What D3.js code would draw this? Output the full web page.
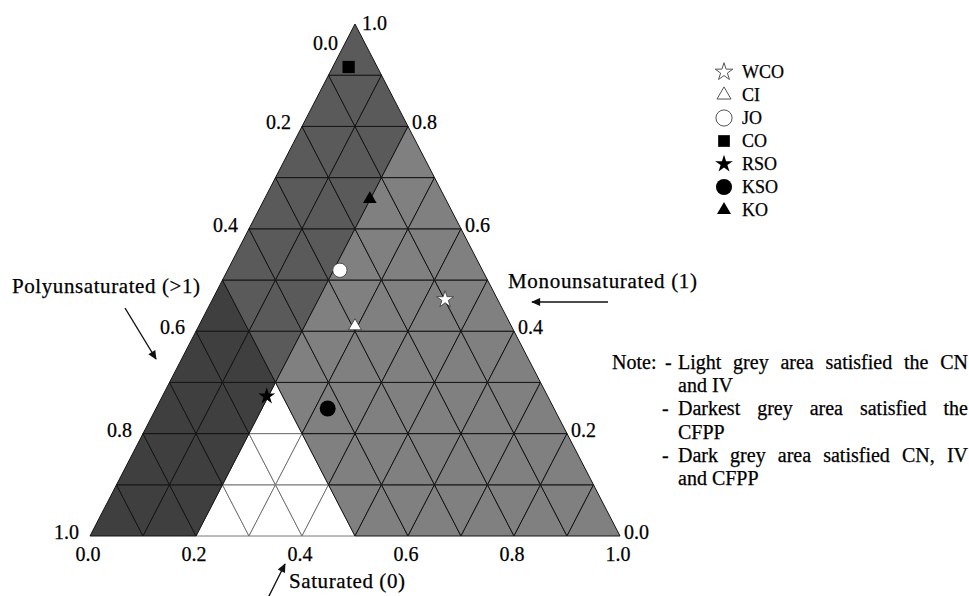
<!DOCTYPE html>
<html>
<head>
<meta charset="utf-8">
<script src="https://cdn.jsdelivr.net/npm/d3@7"></script>
<style>
  html, body { margin: 0; padding: 0; background: #fff; }
  svg { display: block; font-family: "Liberation Serif", "Times New Roman", serif; }
  svg text { fill: #000; stroke: #000; stroke-width: 0.25px; }
</style>
</head>
<body>
<svg id="chart" width="969" height="596"></svg>
<script>
// ---- data -------------------------------------------------------------
const oils            = ["WCO", "CI", "JO", "CO", "RSO", "KSO", "KO"];
const saturated       = [0.439, 0.295, 0.212, 0.030, 0.197, 0.324, 0.199]; // bottom axis
const monounsaturated = [0.462, 0.410, 0.519, 0.916, 0.273, 0.249, 0.658]; // right axis
const polyunsaturated = [0.099, 0.295, 0.269, 0.054, 0.530, 0.427, 0.143]; // left axis

const tickValues = [0, 0.2, 0.4, 0.6, 0.8, 1.0];
const divisions = 10;

// Criteria zones, vertices given as [saturated, monounsaturated]
const zoneDarkest = [[0, 0], [0.2, 0], [0.2, 0.3], [0, 0.5]];   // CFPP
const zoneWhite   = [[0.2, 0], [0.5, 0], [0.2, 0.3]];
const zoneLight   = [[0.5, 0], [1, 0], [0.2, 0.8], [0.2, 0.3]];  // CN and IV
const zoneDark    = [[0, 0.5], [0.2, 0.3], [0.2, 0.8], [0, 1]];  // CN, IV and CFPP

const noteLines = [
  { lead: "Note:", dash: "-", text: "Light grey area satisfied the CN", justify: true },
  { text: "and IV" },
  { dash: "-", text: "Darkest grey area satisfied the", justify: true },
  { text: "CFPP" },
  { dash: "-", text: "Dark grey area satisfied CN, IV", justify: true },
  { text: "and CFPP" }
];

// ---- layout -----------------------------------------------------------
const svg = d3.select("#chart");
const xs = d3.scaleLinear().domain([0, 1]).range([90, 620]);
const ys = d3.scaleLinear().domain([0, 1]).range([536, 24]);
const px = (s, m) => xs(s + m / 2);
const py = (s, m) => ys(m);
const pt = ([s, m]) => [px(s, m), py(s, m)];

const zoneStyles = [
  { poly: zoneWhite,   fill: "#ffffff", stroke: "#6a6a6a", width: 0.9 },
  { poly: zoneDarkest, fill: "#3f3f3f", stroke: "#141414", width: 1 },
  { poly: zoneDark,    fill: "#5a5a5a", stroke: "#141414", width: 1 },
  { poly: zoneLight,   fill: "#808080", stroke: "#141414", width: 1 }
];

// triangular cells of the 10 x 10 grid
const cells = [];
for (let j = 0; j < divisions; j++) {
  for (let i = 0; i < divisions - j; i++) {
    cells.push([[i, j], [i + 1, j], [i, j + 1]]);
    if (i < divisions - j - 1) cells.push([[i + 1, j], [i + 1, j + 1], [i, j + 1]]);
  }
}
const cellData = cells.map(c => {
  const v = c.map(([i, j]) => [i / divisions, j / divisions]);
  const cen = [d3.mean(v, d => d[0]), d3.mean(v, d => d[1])];
  const z = zoneStyles.findIndex(zs => d3.polygonContains(zs.poly, cen));
  return { v, z };
}).sort((a, b) => a.z - b.z);

const line = d3.line();
svg.append("g").selectAll("path")
  .data(cellData)
  .join("path")
  .attr("d", d => line(d.v.map(pt)) + "Z")
  .attr("fill", d => zoneStyles[d.z].fill)
  .attr("stroke", d => zoneStyles[d.z].stroke)
  .attr("stroke-width", d => zoneStyles[d.z].width)
  .attr("stroke-linejoin", "round");

// ---- axis tick labels ---------------------------------------------------
const fmt = d3.format(".1f");
const labels = svg.append("g").attr("font-size", 20);

// left axis: polyunsaturated, 0 at the apex, 1 at the bottom-left corner
labels.selectAll("text.left")
  .data(tickValues)
  .join("text")
  .attr("class", "left")
  .attr("text-anchor", "end")
  .attr("x", t => {
    const m = 1 - t;
    return px(0, m) - (m === 1 ? 17 : 11);
  })
  .attr("y", t => {
    const m = 1 - t;
    return py(0, m) + (m === 1 ? 26 : 3);
  })
  .text(fmt);

// right axis: monounsaturated, 1 at the apex, 0 at the bottom-right corner
labels.selectAll("text.right")
  .data(tickValues)
  .join("text")
  .attr("class", "right")
  .attr("x", t => px(1 - t, t) + (t === 1 ? 7 : 4))
  .attr("y", t => py(1 - t, t) + (t === 1 ? 6 : 3))
  .text(fmt);

// bottom axis: saturated
labels.selectAll("text.bottom")
  .data(tickValues)
  .join("text")
  .attr("class", "bottom")
  .attr("text-anchor", "middle")
  .attr("x", t => xs(t) - 2)
  .attr("y", 561)
  .text(fmt);

// ---- axis titles with arrows -------------------------------------------
const defs = svg.append("defs");
defs.append("marker")
  .attr("id", "head")
  .attr("viewBox", "0 0 10 10")
  .attr("refX", 9).attr("refY", 5)
  .attr("markerWidth", 11).attr("markerHeight", 9)
  .attr("markerUnits", "userSpaceOnUse")
  .attr("orient", "auto")
  .append("path").attr("d", "M0,0.5 L10,5 L0,9.5 Z").attr("fill", "#111");

const titles = [
  { text: "Polyunsaturated (>1)", x: 12,  y: 293, len: 188, arrow: [[125, 308], [156, 359]] },
  { text: "Monounsaturated (1)",  x: 508, y: 288, len: 189, arrow: [[608, 302], [532, 302]] },
  { text: "Saturated (0)",        x: 289, y: 588, len: 116, arrow: [[268, 598], [285, 564]] }
];
const tg = svg.append("g").attr("font-size", 21);
titles.forEach(t => {
  tg.append("text").attr("x", t.x).attr("y", t.y)
    .attr("textLength", t.len).attr("lengthAdjust", "spacing").text(t.text);
  tg.append("line")
    .attr("x1", t.arrow[0][0]).attr("y1", t.arrow[0][1])
    .attr("x2", t.arrow[1][0]).attr("y2", t.arrow[1][1])
    .attr("stroke", "#111").attr("stroke-width", 1.4)
    .attr("marker-end", "url(#head)");
});

// ---- oil markers ------------------------------------------------------------
const markStyle = {
  WCO: { type: d3.symbolStar,     fill: "#fff",  size: 88,  legend: 97 },
  CI:  { type: d3.symbolTriangle, fill: "#fff",  size: 72,  legend: 85 },
  JO:  { type: d3.symbolCircle,   fill: "#fff",  size: 160, legend: 205 },
  CO:  { type: d3.symbolSquare,   fill: "#000",  size: 150, legend: 137 },
  RSO: { type: d3.symbolStar,     fill: "#000",  size: 88,  legend: 97 },
  KSO: { type: d3.symbolCircle,   fill: "#000",  size: 200, legend: 205 },
  KO:  { type: d3.symbolTriangle, fill: "#000",  size: 80,  legend: 85 }
};
const points = oils.map((name, k) => ({
  name, s: saturated[k], m: monounsaturated[k], p: polyunsaturated[k]
}));

svg.append("g").selectAll("path")
  .data(points)
  .join("path")
  .attr("transform", d => `translate(${px(d.s, d.m)},${py(d.s, d.m)})`)
  .attr("d", d => d3.symbol(markStyle[d.name].type, markStyle[d.name].size)())
  .attr("fill", d => markStyle[d.name].fill)
  .attr("stroke", d => markStyle[d.name].fill === "#fff" ? "#333" : "none")
  .attr("stroke-width", 0.8);

// ---- legend ---------------------------------------------------------------
const legend = svg.append("g").attr("font-size", 18);
const legendY = d3.scalePoint().domain(oils).range([72, 210]);
const rows = legend.selectAll("g")
  .data(oils)
  .join("g")
  .attr("transform", d => `translate(0,${legendY(d)})`);
rows.append("path")
  .attr("transform", "translate(724,0)")
  .attr("d", d => d3.symbol(markStyle[d].type, markStyle[d].legend)())
  .attr("fill", d => markStyle[d].fill)
  .attr("stroke", d => markStyle[d].fill === "#fff" ? "#555" : "none")
  .attr("stroke-width", 1);
rows.append("text").attr("x", 742).attr("y", 6).text(d => d);

// ---- note -------------------------------------------------------------------
const note = svg.append("g").attr("font-size", 20);
const noteRight = 968, noteTextX = 678;
noteLines.forEach((l, k) => {
  const y = 369 + k * 23.2;
  if (l.lead) note.append("text").attr("x", 612).attr("y", y).text(l.lead);
  if (l.dash) note.append("text").attr("x", l.lead ? 665 : 662).attr("y", y).text(l.dash);
  const t = note.append("text").attr("x", noteTextX).attr("y", y).text(l.text);
  if (l.justify) {
    const natural = t.node().getComputedTextLength();
    const gaps = (l.text.match(/ /g) || []).length;
    if (gaps) t.attr("word-spacing", (noteRight - noteTextX - natural) / gaps);
  }
});
</script>
</body>
</html>
